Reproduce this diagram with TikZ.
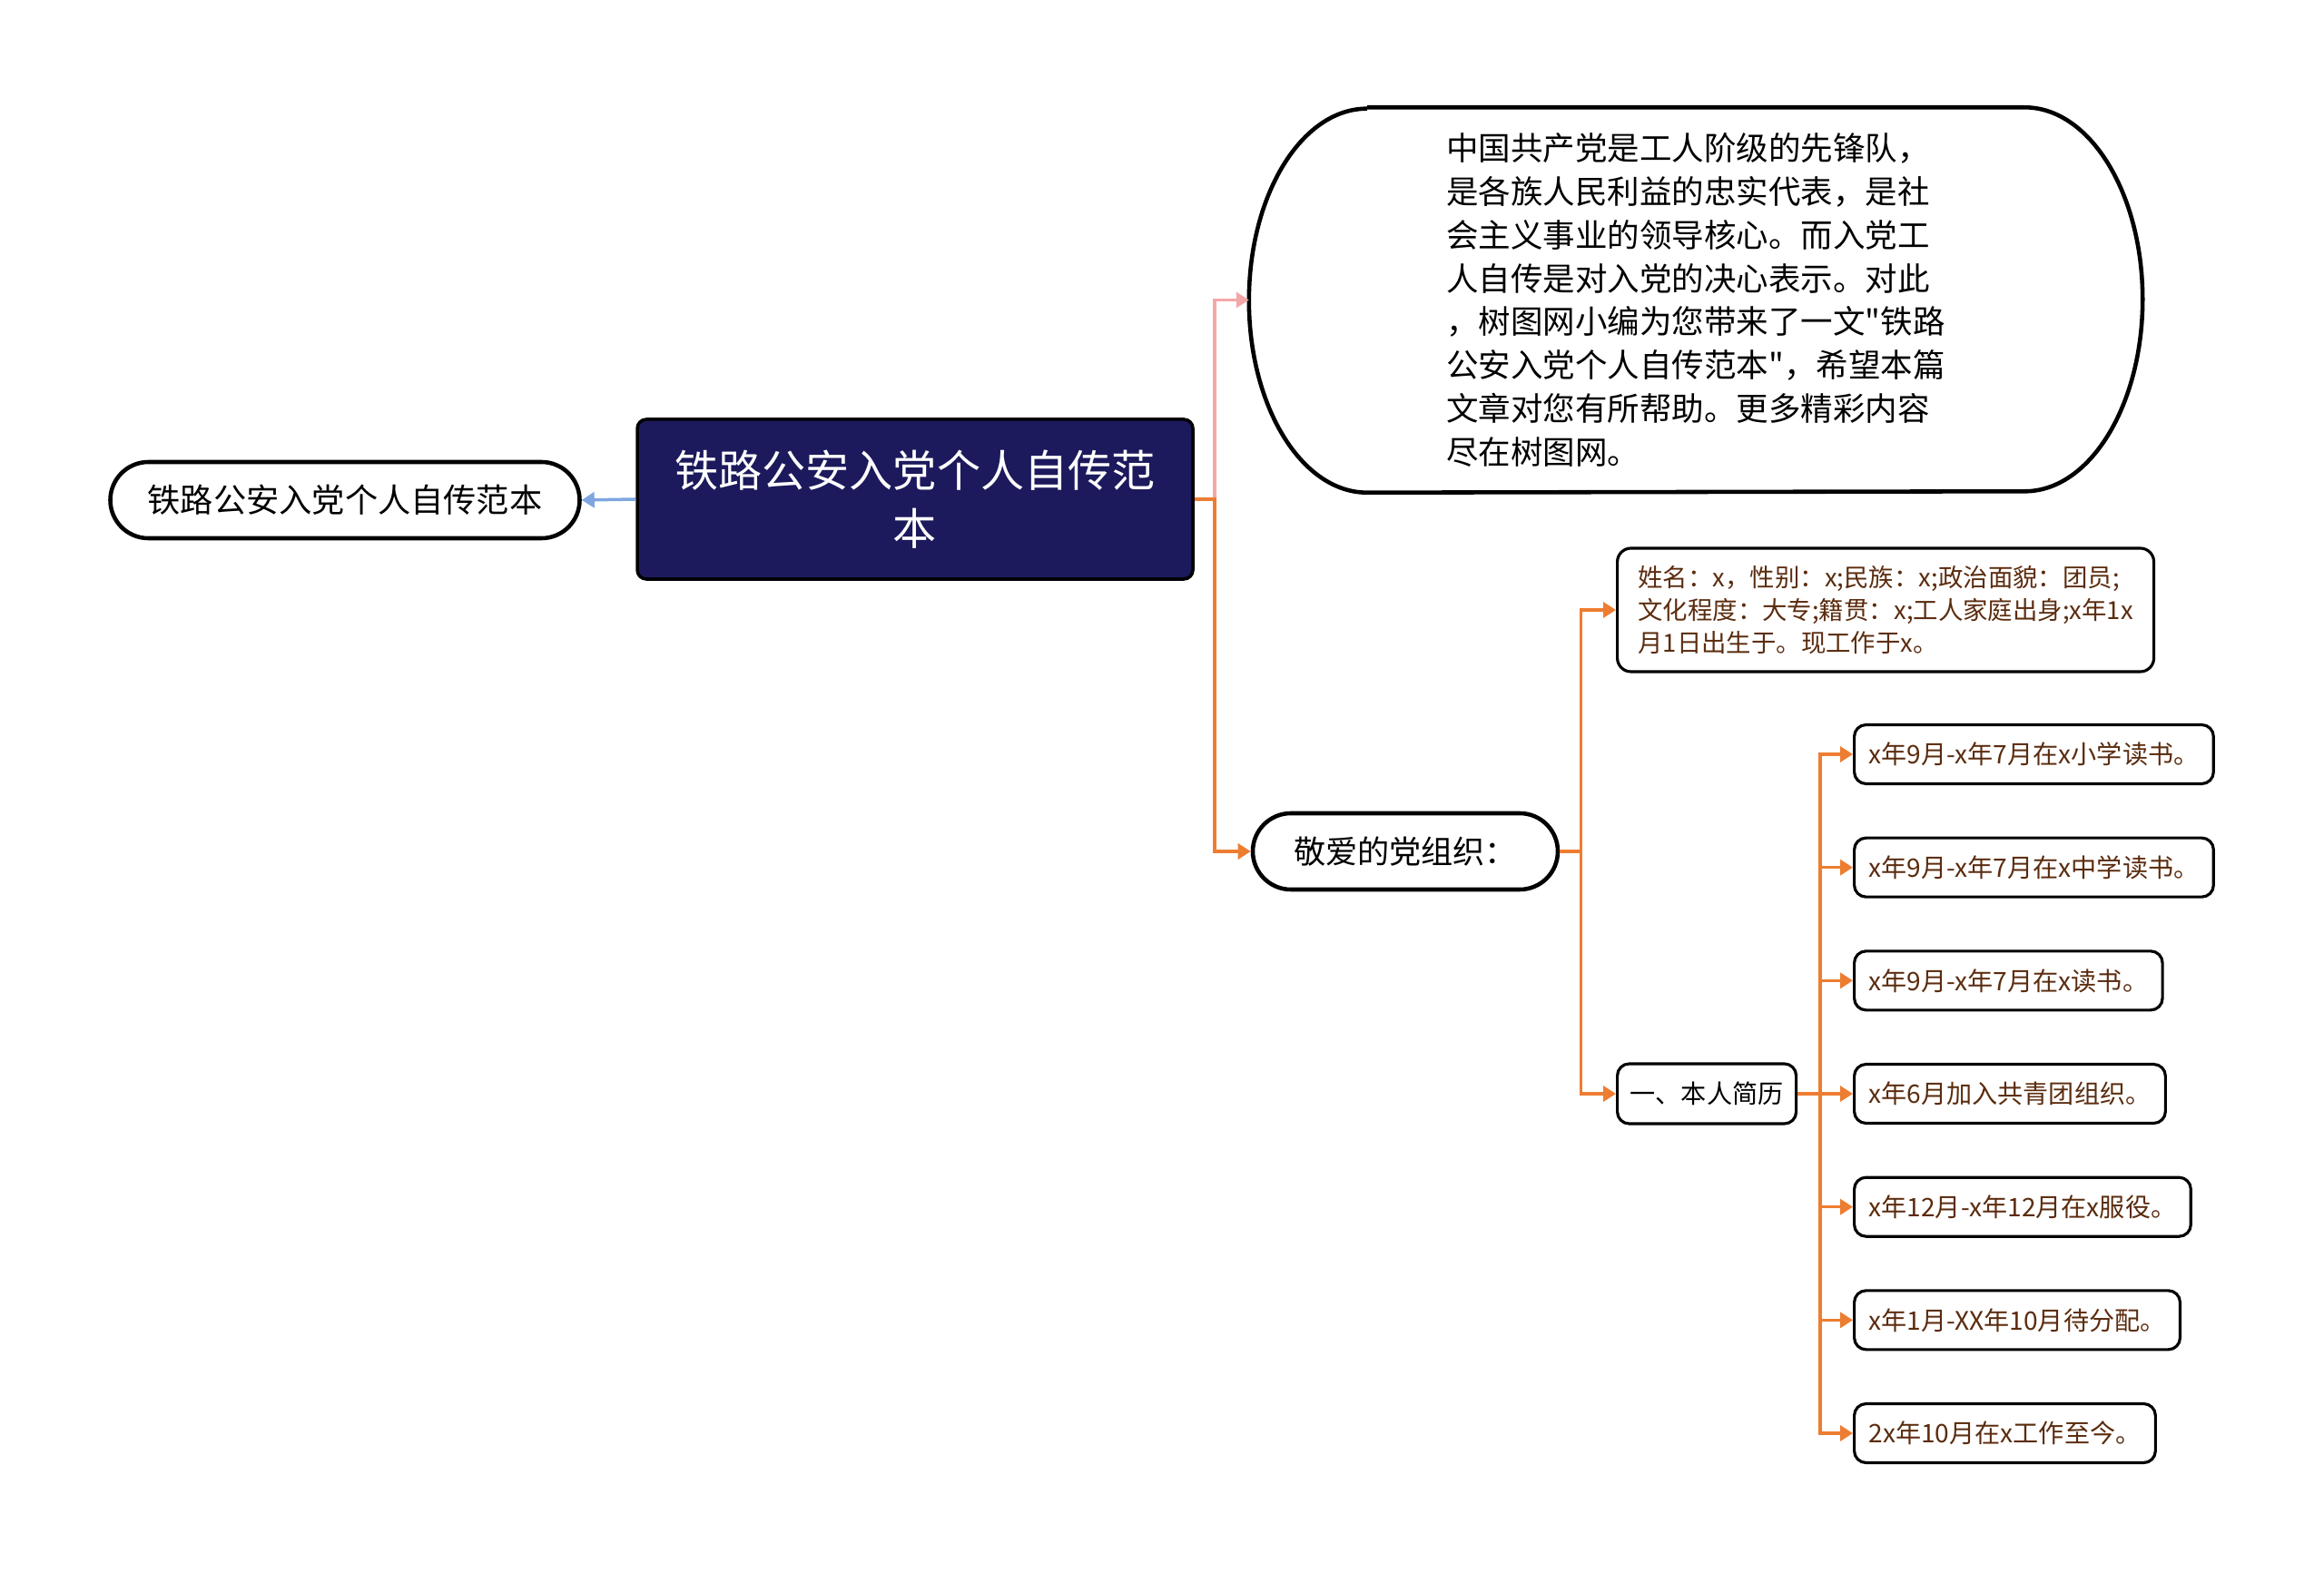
\documentclass[tikz,border=0pt]{standalone}
\usepackage{fontspec}
\setmainfont{Noto Sans CJK SC}[Ligatures=TeXOff]
\usetikzlibrary{arrows.meta}

\definecolor{rootnavy}{HTML}{1C1A5C}
\definecolor{leafbrown}{HTML}{5B2C0F}
\definecolor{branchorange}{HTML}{ED7D31}
\definecolor{branchpink}{HTML}{F4A7A7}
\definecolor{branchblue}{HTML}{7EA6E0}

\tikzset{
  pill/.style={draw, line width=1.3pt, rounded corners=0.42cm, fill=white,
    minimum height=0.84cm, inner xsep=0.4cm},
  leafbox/.style={draw, line width=0.9pt, rounded corners=0.13cm, fill=white,
    text=leafbrown, font=\fontsize{8}{10}\selectfont, minimum height=0.65cm,
    inner xsep=0.16cm, anchor=west},
  tip/.style={-{Triangle[length=0.14cm, width=0.17cm]}},
  orangeline/.style={draw=branchorange, line width=1pt, tip},
}

\begin{document}
\begin{tikzpicture}
  \useasboundingbox (0,0) rectangle (25.6,-17.33);

  % root and its mirror on the left
  \node[draw, line width=1pt, fill=rootnavy, text=white, rounded corners=0.1cm,
    minimum width=6.12cm, minimum height=1.76cm, align=center,
    font=\fontsize{13.7}{18.2}\selectfont] (root) at (10.08,-5.50)
    {铁路公安入党个人自传范\\本};
  \node[pill, minimum width=5.17cm, font=\fontsize{10.3}{12}\selectfont] (title)
    at (3.80,-5.51) {铁路公安入党个人自传范本};
  \draw[draw=branchblue, line width=1pt, tip] (root.west) -- (title.east);

  % bubble with the introduction
  \node[minimum width=9.83cm, minimum height=4.23cm, align=left,
    font=\fontsize{10.1}{13.6}\selectfont] (intro) at (18.68,-3.305)
    {中国共产党是工人阶级的先锋队，\\是各族人民利益的忠实代表，是社\\
     会主义事业的领导核心。而入党工\\人自传是对入党的决心表示。对此\\
     ，树图网小编为您带来了一文"铁路\\公安入党个人自传范本"，希望本篇\\
     文章对您有所帮助。更多精彩内容\\尽在树图网。};
  \draw[line width=1.3pt] ([xshift=1.3cm]intro.north west)
    -- ([xshift=-1.3cm]intro.north east)
    arc[start angle=90, end angle=-90, x radius=1.3cm, y radius=2.115cm]
    -- ([xshift=1.3cm]intro.south west)
    arc[start angle=270, end angle=90, x radius=1.3cm, y radius=2.115cm];
  \draw[draw=branchpink, line width=1pt, tip] (root.east) -- ++(0.22,0) |- (intro.west);

  % letter to the party
  \node[pill, minimum width=3.36cm, font=\fontsize{10}{12}\selectfont] (letter)
    at (15.48,-9.38) {敬爱的党组织：};
  \draw[orangeline] (root.east) -- ++(0.22,0) |- (letter.west);

  \node[draw, line width=0.9pt, rounded corners=0.15cm, text=leafbrown,
    minimum width=5.91cm, minimum height=1.36cm, align=left, anchor=west,
    inner xsep=0.12cm, font=\fontsize{7.8}{10.2}\selectfont] (info) at (17.80,-6.72)
    {姓名：x，性别：x;民族：x;政治面貌：团员;\\文化程度：大专;籍贯：x;工人家庭出身;x年1x\\
     月1日出生于。现工作于x。};
  \node[draw, line width=0.9pt, rounded corners=0.13cm, minimum width=1.97cm,
    minimum height=0.66cm, anchor=west, font=\fontsize{8}{10}\selectfont]
    (resume) at (17.80,-12.05) {一、本人简历};
  \draw[orangeline] (letter.east) -- ++(0.23,0) |- (info.west);
  \draw[orangeline] (letter.east) -- ++(0.23,0) |- (resume.west);

  % resume entries
  \foreach \txt [count=\i] in {x年9月-x年7月在x小学读书。, x年9月-x年7月在x中学读书。,
      x年9月-x年7月在x读书。, x年6月加入共青团组织。, x年12月-x年12月在x服役。,
      x年1月-XX年10月待分配。, 2x年10月在x工作至今。}{
    \node[leafbox] (entry\i) at (20.41,{-8.31-(\i-1)*1.2467}) {\txt};
    \draw[orangeline] (resume.east) -- ++(0.25,0) |- (entry\i.west);
  }
\end{tikzpicture}
\end{document}
